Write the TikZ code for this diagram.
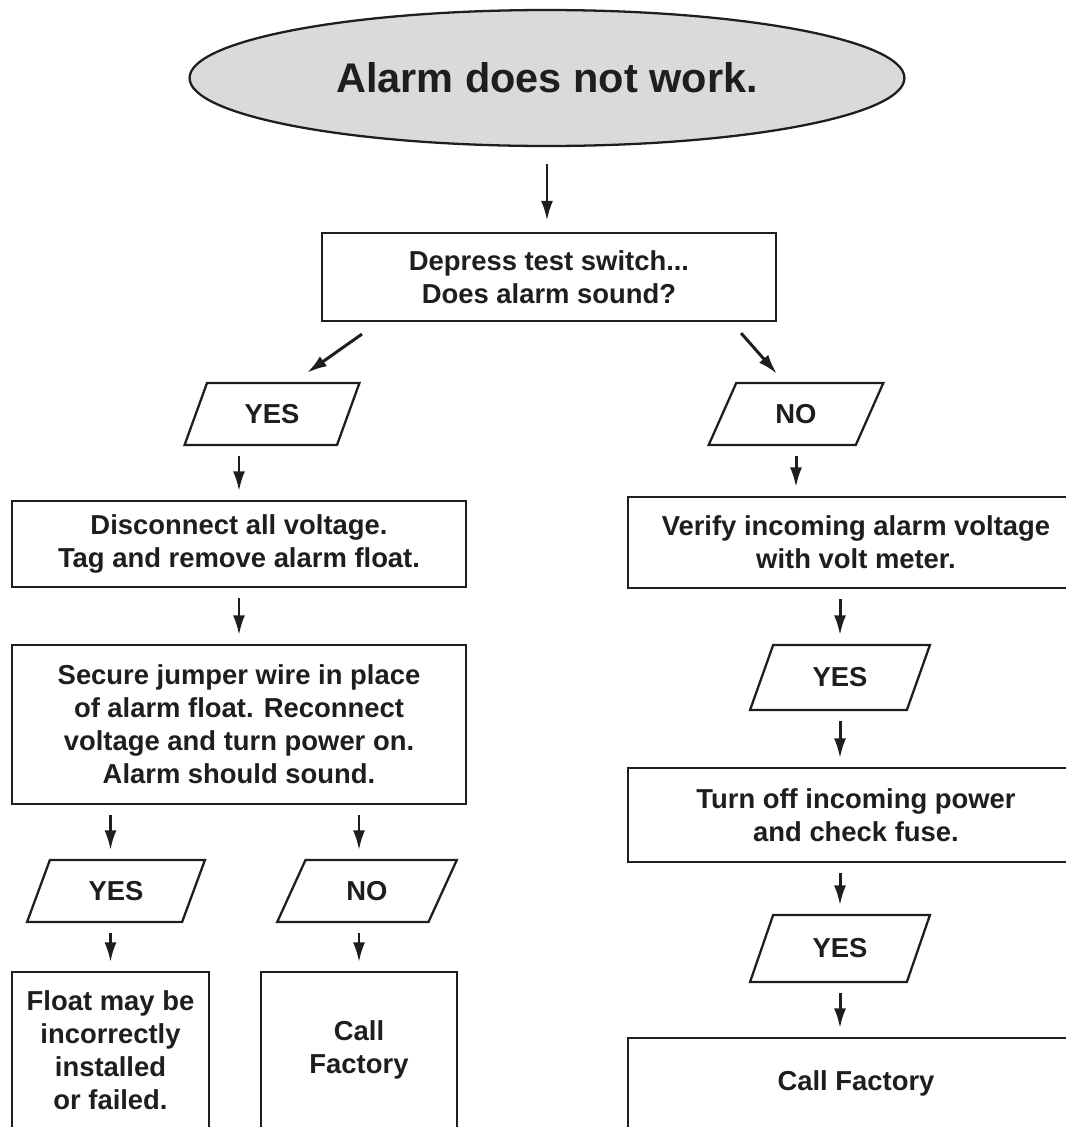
\documentclass[tikz,border=0pt]{standalone}
\usepackage{xcolor}
\usepackage{tikz}
\usepackage{fontspec}
\setmainfont{Liberation Sans}
\usetikzlibrary{shapes.geometric}
\usetikzlibrary{arrows.meta}
\definecolor{ink}{HTML}{1E1E1E}
\definecolor{startgray}{HTML}{DADADA}
\tikzset{
	every node/.style={font=\bfseries\fontsize{15.6}{18.8}\selectfont, text=ink},
	start/.style={fill=startgray, draw=ink, shape=ellipse, line width=1.3pt, inner sep=0pt, font=\bfseries\fontsize{23.6}{28}\selectfont},
	box/.style={fill=white, draw=ink, shape=rectangle, line width=1.3pt, align=center, inner sep=0pt},
	answer/.style={fill=white, draw=ink, shape=trapezium, trapezium left angle=64, trapezium right angle=116, trapezium stretches=true, line width=1.3pt, inner sep=0pt, minimum height=1.24cm, minimum width=3.5cm},
	arr/.style={draw=ink, line width=1.7pt, -{Latex[length=4mm,width=2.4mm]}},
	gap/.style={shorten <=0.2cm, shorten >=0.17cm}
}

\begin{document}
\begin{tikzpicture}[x=0.02cm, y=-0.02cm]
	\useasboundingbox (0,0) rectangle (1066,1127);
	\clip (0,0) rectangle (1066,1127);
	\node [start, minimum width=14.3cm, minimum height=2.72cm] (alarm) at (547,78) {Alarm does not work.};
	\node [box, minimum width=9.08cm, minimum height=1.76cm] (test) at (549,277) {Depress test switch...\\Does alarm sound?};
	\node [answer] (yesA) at (272,414) {YES};
	\node [answer] (noA) at (796,414) {NO};
	\node [box, minimum width=9.08cm, minimum height=1.72cm] (disc) at (239,544) {Disconnect all voltage.\\Tag and remove alarm float.};
	\node [box, minimum width=9.08cm, minimum height=3.18cm] (jumper) at (239,724.5) {Secure jumper wire in place\\of alarm float. Reconnect\\voltage and turn power on.\\Alarm should sound.};
	\node [answer, minimum width=3.56cm] (yesB) at (116,891) {YES};
	\node [answer, minimum width=3.6cm] (noB) at (367,891) {NO};
	\node [box, minimum width=3.94cm, minimum height=3.12cm] (float) at (110.5,1050) {Float may be\\incorrectly\\installed\\or failed.};
	\node [box, minimum width=3.92cm, minimum height=3.12cm] (callA) at (359,1050) {Call\\Factory};
	\node [box, minimum width=9.12cm, minimum height=1.82cm] (verify) at (856,542.5) {Verify incoming alarm voltage\\with volt meter.};
	\node [answer, minimum width=3.6cm, minimum height=1.3cm] (yesC) at (840,677.5) {YES};
	\node [box, minimum width=9.12cm, minimum height=1.88cm] (fuse) at (856,815) {Turn off incoming power\\and check fuse.};
	\node [answer, minimum width=3.6cm, minimum height=1.34cm] (yesD) at (840,948.5) {YES};
	\node [box, minimum width=9.12cm, minimum height=1.8cm] (callB) at (856,1083) {Call Factory};
	\draw [arr, shorten <=0.34cm, shorten >=0.22cm] (alarm.south) -- (alarm.south |- test.north);
	\draw [arr] ([shift={(41,12)}]test.south west) -- ([shift={(35,-9)}]yesA.north);
	\draw [arr] ([shift={(-36,11)}]test.south east) -- ([shift={(-19,-8)}]noA.north);
	\draw [arr, gap] (yesA.south -| disc.north) -- (disc.north);
	\draw [arr, gap] (disc) -- (jumper);
	\draw [arr, gap] (jumper.south -| float.north) -- (float.north |- yesB.north);
	\draw [arr, gap] (jumper.south -| callA.north) -- (callA.north |- noB.north);
	\draw [arr, gap] (yesB.south -| float.north) -- (float.north);
	\draw [arr, gap] (noB.south -| callA.north) -- (callA.north);
	\draw [arr, gap] (noA.south) -- (noA.south |- verify.north);
	\draw [arr, gap] (verify.south -| yesC.north) -- (yesC.north);
	\draw [arr, gap] (yesC.south) -- (yesC.south |- fuse.north);
	\draw [arr, gap] (fuse.south -| yesD.north) -- (yesD.north);
	\draw [arr, gap] (yesD.south) -- (yesD.south |- callB.north);
\end{tikzpicture}
\end{document}
